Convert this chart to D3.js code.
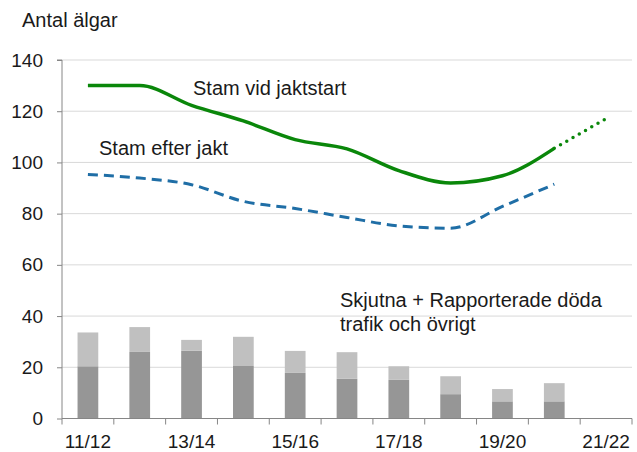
<!DOCTYPE html>
<html>
<head>
<meta charset="utf-8">
<script src="https://cdn.jsdelivr.net/npm/d3@7"></script>
<style>
  html, body { margin: 0; padding: 0; background: #fff; }
  svg { display: block; font-family: "Liberation Sans", Arial, sans-serif; }
</style>
</head>
<body>
<svg id="chart" width="637" height="452"></svg>
<script>
const categories = ["11/12","12/13","13/14","14/15","15/16","16/17","17/18","18/19","19/20","20/21","21/22"];
const tickLabels = ["11/12","13/14","15/16","17/18","19/20","21/22"];
const yTicks = [0, 20, 40, 60, 80, 100, 120, 140];
// Skjutna (dark) and rapporterade döda trafik och övrigt (light, stacked)
const shot = [20.4, 26.0, 26.5, 20.5, 17.8, 15.5, 15.1, 9.5, 6.7, 6.7, null];
const otherDead = [13.2, 9.7, 4.2, 11.4, 8.6, 10.4, 5.3, 7.0, 4.8, 7.1, null];
// Stam vid jaktstart (solid up to 20/21, forecast 21/22 dotted)
const stamStart = [130, 130, 122.3, 116.2, 108.9, 105.3, 96.8, 92.0, 94.8, 105.5, null];
const stamStartForecast = [null, null, null, null, null, null, null, null, null, 105.5, 117.1];
// Stam efter jakt
const stamEfter = [95.3, 93.9, 91.3, 84.8, 82.0, 78.5, 75.2, 74.3, 82.8, 91.5, null];

(function () {
const svg = d3.select("#chart");
const mLeft = 62, mRight = 632, mTop = 60, mBottom = 418.5;

const x = d3.scaleBand().domain(categories).range([mLeft, mRight]).padding(0);
const y = d3.scaleLinear().domain([0, 140]).range([mBottom, mTop]);
const cx = c => x(c) + x.bandwidth() / 2;

// grid
svg.append("g").selectAll("line").data(yTicks.filter(d => d > 0)).join("line")
  .attr("x1", mLeft).attr("x2", mRight)
  .attr("y1", d => y(d)).attr("y2", d => y(d))
  .attr("stroke", "#d9d9d9").attr("stroke-width", 1);

// bars
const barW = x.bandwidth() * 0.4;
const barData = categories.map((c, i) => ({c, s: shot[i], o: otherDead[i]})).filter(d => d.s != null);
svg.append("g").selectAll("rect").data(barData).join("rect")
  .attr("x", d => cx(d.c) - barW / 2).attr("width", barW)
  .attr("y", d => y(d.s)).attr("height", d => y(0) - y(d.s))
  .attr("fill", "#969696");
svg.append("g").selectAll("rect").data(barData).join("rect")
  .attr("x", d => cx(d.c) - barW / 2).attr("width", barW)
  .attr("y", d => y(d.s + d.o)).attr("height", d => y(d.s) - y(d.s + d.o))
  .attr("fill", "#c0c0c0");

// axes
const yAxis = d3.axisLeft(y).tickValues(yTicks).tickSize(5).tickPadding(14).tickFormat(d3.format("d"));
const gy = svg.append("g").attr("transform", `translate(${mLeft},0)`).call(yAxis);
gy.select(".domain").attr("stroke", "#868686").attr("d", `M-5,${mTop}H0V${mBottom}`);
gy.selectAll(".tick line").attr("stroke", "#868686");
gy.selectAll(".tick text").attr("font-size", 19).attr("fill", "#1a1a1a")
  .attr("font-family", "Liberation Sans, Arial, sans-serif");

const bounds = categories.map(c => x(c)).concat([mRight]);
const gx = svg.append("g");
gx.append("line").attr("x1", mLeft).attr("x2", mRight).attr("y1", mBottom).attr("y2", mBottom)
  .attr("stroke", "#868686");
gx.selectAll("line.t").data(bounds).join("line").attr("class", "t")
  .attr("x1", d => d).attr("x2", d => d).attr("y1", mBottom).attr("y2", mBottom + 6)
  .attr("stroke", "#868686");
gx.selectAll("text").data(tickLabels).join("text")
  .attr("x", d => cx(d)).attr("y", 447.5).attr("text-anchor", "middle")
  .attr("font-size", 19).attr("fill", "#1a1a1a").text(d => d);

// lines
const line = d3.line().defined(d => d.v != null).x(d => cx(d.c)).y(d => y(d.v)).curve(d3.curveMonotoneX);
const toPts = arr => categories.map((c, i) => ({c, v: arr[i]}));

svg.append("path").datum(toPts(stamEfter)).attr("d", line)
  .attr("fill", "none").attr("stroke", "#1f6ea6").attr("stroke-width", 3)
  .attr("stroke-dasharray", "10,6");
svg.append("path").datum(toPts(stamStart)).attr("d", line)
  .attr("fill", "none").attr("stroke", "#0a870a").attr("stroke-width", 3.5)
  .attr("stroke-linejoin", "round");
svg.append("path").datum(toPts(stamStartForecast)).attr("d", line)
  .attr("fill", "none").attr("stroke", "#0a870a").attr("stroke-width", 3.5)
  .attr("stroke-linecap", "round").attr("stroke-dasharray", "0,7.2");

// text labels
const txt = (t, xx, yy) => svg.append("text").attr("x", xx).attr("y", yy)
  .attr("font-size", 20).attr("fill", "#1a1a1a").text(t);
txt("Antal älgar", 22, 27);
txt("Stam vid jaktstart", 193, 95);
txt("Stam efter jakt", 99, 155);
txt("Skjutna + Rapporterade döda", 340, 307);
txt("trafik och övrigt", 340, 331);
})();
</script>
</body>
</html>
